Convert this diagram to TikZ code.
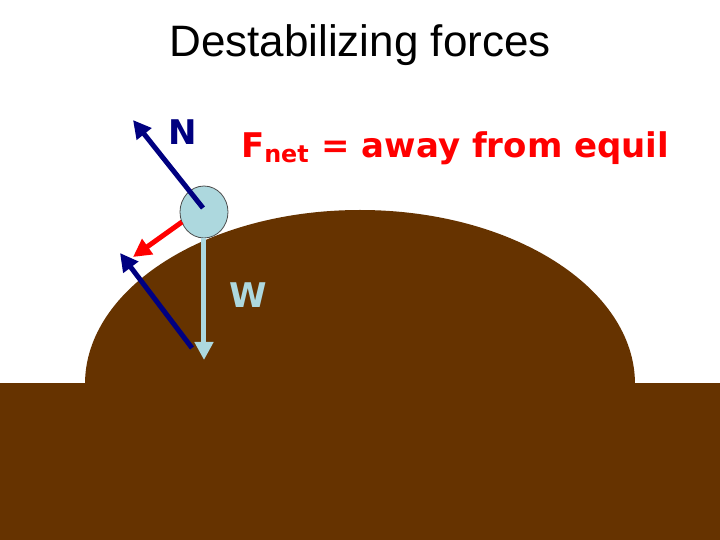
\documentclass[tikz,border=0pt]{standalone}
\usepackage{fontspec}
\setmainfont{Liberation Sans}
\newfontfamily\comicfont{DejaVu Sans}
\usetikzlibrary{arrows.meta,shapes.geometric}
\definecolor{dirt}{RGB}{102,51,0}
\definecolor{navyarrow}{RGB}{0,0,128}
\definecolor{ballblue}{RGB}{173,216,222}
\tikzset{
  force/.style={line width=2.5pt, -{Triangle[length=9pt,width=9pt]}},
  lbl/.style={font=\comicfont\bfseries\fontsize{17}{17}\selectfont}
}
\begin{document}
\begin{tikzpicture}[x=0.5pt,y=-0.5pt]
    \useasboundingbox (0,0) rectangle (720,540);
    % Title
    \node (title) at (360,45) {\fontsize{22}{26}\selectfont Destabilizing forces};

    % Ground and hill
    \fill[dirt] (0,383) rectangle (720,540);
    \fill[dirt] (85,384) arc[start angle=180, end angle=360, x radius=275, y radius=174] -- cycle;

    % Ball
    \node (ball) [ellipse, draw=black!70, fill=ballblue,
        inner sep=0pt, minimum width=24pt, minimum height=26pt] at (204,212) {};
    \coordinate (ballc) at (203,208);
    \coordinate (ntip) at (133,120);
    \coordinate (wtip) at (204,360);
    \coordinate (fbase) at (182,222);
    \coordinate (ftip) at (133,257);
    \coordinate (n2base) at (192,348);
    \coordinate (n2tip) at (120,253);

    % Forces
    \draw[force, navyarrow] (ballc) -- (ntip);
    \draw[force, ballblue] (ball.south) -- (wtip);
    \draw[force, red] (fbase) -- (ftip);
    \draw[force, navyarrow] (n2base) -- (n2tip);

    % Labels
    \node (nlbl) [lbl, text=navyarrow] at (183,132) {N};
    \node (wlbl) [lbl, text=ballblue] at (248,295) {W};
    \node (fnet) [lbl, text=red, anchor=west] at (234,148) {F\textsubscript{net} = away from equil};
\end{tikzpicture}
\end{document}
